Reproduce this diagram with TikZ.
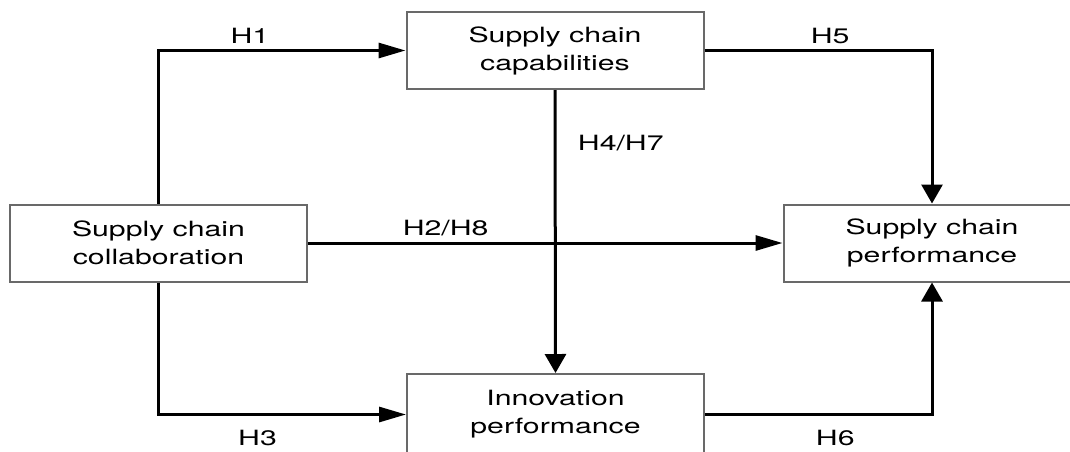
\documentclass[tikz,border=0pt]{standalone}
\usepackage{fontspec}
\setmainfont[FakeStretch=1.44]{TeX Gyre Heros}
\usetikzlibrary{arrows.meta}
\definecolor{boxgray}{RGB}{105,105,105}
\tikzset{
  construct/.style={draw=boxgray, line width=2pt, rectangle, align=center,
    minimum width=297pt, minimum height=77pt, font=\fontsize{21}{28}\selectfont},
  hyp/.style={font=\fontsize{21}{28}\selectfont},
  link/.style={line width=3pt},
  hlink/.style={link, -{Triangle[length=27pt, width=15pt]}},
  vlink/.style={link, -{Triangle[length=19pt, width=21pt]}},
}

\begin{document}
\begin{tikzpicture}[x=1pt, y=-1pt]
    \useasboundingbox (0,0) rectangle (1070,451);

    % Constructs
    \node[construct] (cap) at (555,50.5) {Supply chain\\capabilities};
    \node[construct] (col) at (158.5,243) {Supply chain\\collaboration};
    \node[construct] (perf) at (932,243) {Supply chain\\performance};
    \node[construct, minimum height=81pt] (inno) at (555.5,414.5) {Innovation\\performance};

    % Paths from collaboration
    \draw[hlink] (col.north) |- (cap.west) node[hyp, pos=0.685, above=2pt] (h1) {H1};
    \draw[hlink] (col.south) |- (inno.west) node[hyp, pos=0.7, below=11pt] (h3) {H3};
    \draw[hlink] (col.east) -- (perf.west) node[hyp, pos=0.29, above=2pt] (h2) {H2/H8};

    % Capabilities to innovation
    \draw[vlink] (cap.south) -- (inno.north) node[hyp, pos=0.186, right=18pt] (h4) {H4/H7};

    % Into performance
    \draw[vlink] (cap.east) -| (perf.north) node[hyp, pos=0.276, above=2pt] (h5) {H5};
    \draw[vlink] (inno.east) -| (perf.south) node[hyp, pos=0.287, below=11pt] (h6) {H6};
\end{tikzpicture}
\end{document}
